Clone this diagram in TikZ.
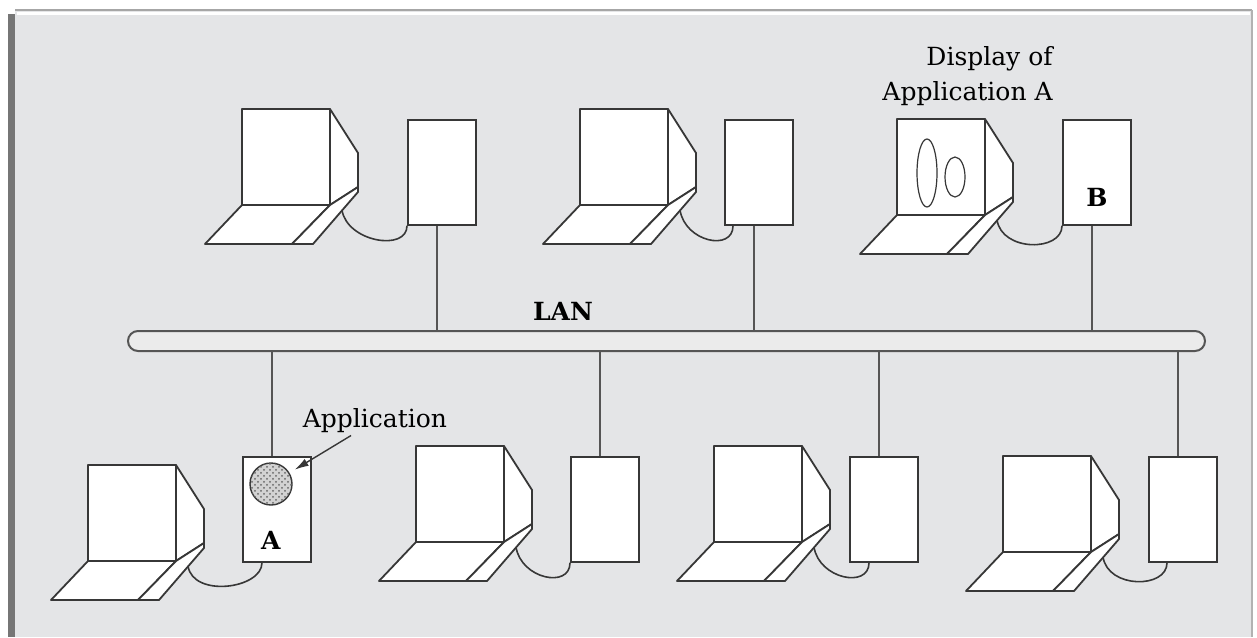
\documentclass[tikz,border=0pt]{standalone}
\usepackage{fontspec}
\setmainfont{DejaVu Serif}
\usepackage{tikz}
\usetikzlibrary{arrows.meta, patterns}

\definecolor{panel}{RGB}{228,229,231}
\definecolor{inkgray}{RGB}{55,55,55}
\definecolor{rim}{RGB}{118,118,118}

\begin{document}
\begin{tikzpicture}[x=0.5pt, y=-0.5pt, font=\fontsize{12.5}{17.5}\selectfont,
    shell/.style={draw=inkgray, fill=white, line width=0.9pt, line join=round},
    cpubox/.style={draw=inkgray, fill=white, line width=0.9pt, minimum width=34pt,
                   minimum height=52.5pt, inner sep=0pt, anchor=north west},
    cable/.style={draw=inkgray, line width=0.8pt},
    busline/.style={draw=inkgray!85, line width=0.8pt},
    pointer/.style={-{Latex[length=7pt,width=4pt]}, draw=inkgray, line width=0.7pt, shorten >=3pt}]

    % frame
    \fill[white] (0,0) rectangle (1257,637);
    \fill[panel] (15,10) rectangle (1252,637);
    \fill[rim] (8,14) rectangle (15,637);
    \draw[gray!70, line width=1pt] (15,10) -- (1252,10);
    \draw[white, line width=1.5pt] (17,13.5) -- (1250,13.5);
    \draw[gray!60, line width=0.8pt] (1252,10) -- (1252,637);

    % the LAN cable
    \node[draw=inkgray!85, fill=white!92!black, line width=1pt, rounded corners=5pt,
          minimum width=538.5pt, minimum height=10pt, inner sep=0pt] (lan) at (666.5,341) {};
    \node (lanlabel) at (563,311) {\textbf{LAN}};

    % workstations: monitor, keyboard, box and the cord between them
    \foreach \i/\mx/\my/\bx/\by/\ce in {1/242/109/407/119/0, 2/580/109/724/119/9,
        3/897/119/1062/119/0, 4/88/465/242/456/20, 5/416/446/570/456/0,
        6/714/446/849/456/20, 7/1003/456/1148/456/19} {
        \begin{scope}[shift={(\mx,\my)}]
            \filldraw[shell] (0,0) rectangle (88,96);
            \filldraw[shell] (88,0) -- (116,44) -- (116,78) -- (88,96) -- cycle;
            \filldraw[shell] (0,96) -- (-37,135) -- (50,135) -- (88,96) -- cycle;
            \filldraw[shell] (88,96) -- (50,135) -- (71,135) -- (116,83) -- (116,78) -- cycle;
        \end{scope}
        \node[cpubox] (box\i) at (\bx,\by) {};
        \draw[cable] (\mx+100,\my+101) .. controls +(5,32) and +(0,26) .. ([xshift=\ce*0.5pt]box\i.south west);
    }

    % drops to the LAN
    \foreach \i in {1,2,3}
        \draw[busline] ([xshift=-2.5pt]box\i.south) -- ([xshift=-2.5pt]box\i.south |- lan.north);
    \foreach \i in {4,5,6,7}
        \draw[busline] ([xshift=-2.5pt]box\i.north) -- ([xshift=-2.5pt]box\i.north |- lan.south);

    % machine A runs the application
    \node[circle, draw=inkgray, line width=0.7pt, fill=gray!35, minimum size=21pt, inner sep=0pt,
          postaction={pattern=crosshatch dots, pattern color=gray!80!black}] (appcirc) at (271,484) {};
    \node (labA) at ([xshift=-3pt, yshift=-15.5pt]box4.center) {\textbf{A}};
    \node[inner sep=1pt] (applabel) at (375,421) {Application};
    \draw[pointer] (applabel) -- (appcirc);

    % machine B shows it
    \draw[inkgray, line width=0.6pt] (927,173) ellipse [x radius=5pt, y radius=17pt];
    \draw[inkgray, line width=0.6pt] (955,177) ellipse [x radius=5pt, y radius=10pt];
    \node (labB) at ([yshift=-12.5pt]box3.center) {\textbf{B}};
    \node[align=right, anchor=east, inner sep=0pt] (disptext) at (1053,76) {Display of\\Application A};
\end{tikzpicture}
\end{document}
